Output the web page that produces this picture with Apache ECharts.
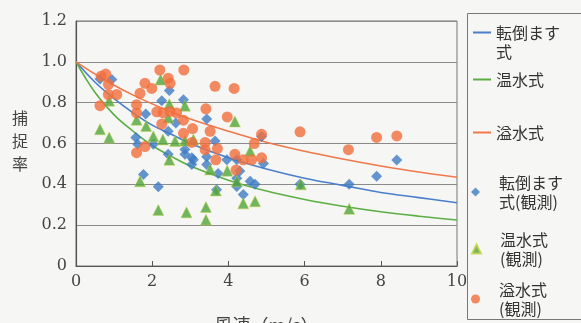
<!DOCTYPE html>
<html>
<head>
<meta charset="utf-8">
<script src="https://cdn.jsdelivr.net/npm/echarts@6/dist/echarts.min.js"></script>
<style>html,body{margin:0;padding:0;background:#f6f6f4;}#c{width:581px;height:323px;}</style>
</head>
<body>
<div id="c"></div>
<script>
// Model curves
const modelSpeed = [0, 0.5, 1, 1.5, 2, 2.5, 3, 4, 5, 6, 7, 8, 9, 10];
const modelMasu  = [1, 0.90, 0.82, 0.75, 0.69, 0.645, 0.60, 0.53, 0.475, 0.43, 0.395, 0.36, 0.335, 0.31];
const modelOnsui = [1, 0.85, 0.74, 0.66, 0.59, 0.537, 0.49, 0.42, 0.367, 0.326, 0.293, 0.266, 0.244, 0.225];
const modelIssui = [1, 0.94, 0.885, 0.837, 0.794, 0.755, 0.72, 0.66, 0.606, 0.562, 0.524, 0.49, 0.46, 0.435];

// Observations [wind speed, capture ratio]
const obsMasu = [[0.63,0.916],[0.94,0.913],[1.57,0.63],[1.62,0.596],[1.77,0.448],[1.83,0.744],[2.03,0.596],[2.16,0.388],[2.25,0.81],[2.42,0.66],[2.42,0.547],[2.45,0.86],[2.62,0.70],[2.82,0.814],[2.86,0.571],[2.86,0.547],[3.04,0.53],[3.04,0.497],[3.08,0.52],[3.43,0.72],[3.43,0.535],[3.43,0.497],[3.65,0.612],[3.69,0.374],[3.73,0.453],[3.96,0.52],[4.22,0.52],[4.22,0.43],[4.22,0.39],[4.3,0.465],[4.39,0.35],[4.57,0.415],[4.70,0.40],[4.87,0.634],[4.92,0.502],[5.88,0.40],[7.17,0.40],[7.89,0.44],[8.42,0.519]];
const obsOnsui = [[0.63,0.67],[0.87,0.81],[0.87,0.629],[1.59,0.716],[1.68,0.415],[1.84,0.686],[2.03,0.635],[2.16,0.274],[2.22,0.913],[2.28,0.62],[2.42,0.727],[2.45,0.793],[2.45,0.52],[2.6,0.612],[2.86,0.785],[2.86,0.615],[2.9,0.263],[3.08,0.62],[3.41,0.289],[3.41,0.227],[3.52,0.473],[3.67,0.37],[3.97,0.467],[4.17,0.708],[4.22,0.415],[4.39,0.307],[4.57,0.563],[4.7,0.317],[5.9,0.40],[7.17,0.28]];
const obsIssui = [[0.63,0.785],[0.66,0.93],[0.78,0.94],[0.85,0.89],[0.85,0.84],[1.07,0.84],[1.59,0.79],[1.59,0.75],[1.59,0.555],[1.68,0.846],[1.81,0.895],[1.81,0.585],[1.99,0.87],[2.12,0.755],[2.2,0.96],[2.25,0.695],[2.29,0.75],[2.42,0.92],[2.47,0.895],[2.47,0.757],[2.64,0.75],[2.82,0.714],[2.82,0.65],[2.83,0.96],[3.04,0.605],[3.06,0.673],[3.39,0.605],[3.39,0.57],[3.41,0.77],[3.52,0.66],[3.65,0.88],[3.67,0.52],[3.71,0.575],[3.97,0.73],[4.15,0.87],[4.17,0.547],[4.2,0.47],[4.39,0.52],[4.61,0.52],[4.68,0.60],[4.87,0.645],[4.87,0.53],[5.88,0.657],[7.15,0.57],[7.89,0.63],[8.42,0.637]];

const names = ['転倒ます式', '温水式', '溢水式', '転倒ます式(観測)', '温水式(観測)', '溢水式(観測)'];
const legendLabels = ['転倒ます', '温水式', '溢水式', '転倒ます\n式(観測)', '温水式\n(観測)', '溢水式\n(観測)'];
const legendWrap = '式';
const xTicks = ['0', '2', '4', '6', '8', '10'];
const yTicks = ['0', '0.2', '0.4', '0.6', '0.8', '1.0', '1.2'];

const cBlue = '#4a7fcb', cGreen = '#5caf45', cOrange = '#f0784a';
const mBlue = '#3f7cc4', mGreen = '#4fa53a', mOrange = '#f26e3c';

const pair = (xs, ys) => xs.map((x, i) => [x, ys[i]]);
const txt = {fontFamily: 'Noto Sans CJK JP', fontSize: 16, color: '#333', lineHeight: 19};

function lg(i, top, isLine) {
  const base = {
    data: [names[i]], orient: 'vertical', top: top, padding: 0,
    formatter: () => legendLabels[i], selectedMode: false
  };
  if (isLine) {
    return Object.assign(base, {left: 473, itemWidth: 18, itemHeight: 2, icon: 'rect',
      itemGap: 5, textStyle: Object.assign({}, txt)});
  }
  return Object.assign(base, {left: 471, itemWidth: 9, itemHeight: 9, itemGap: 5,
    textStyle: Object.assign({}, txt, {padding: [0, 0, 0, 14]})});
}

const chart = echarts.init(document.getElementById('c'), null, {renderer: 'canvas'});
chart.setOption({
  backgroundColor: '#f6f6f4',
  animation: false,
  grid: {left: 76, right: 124, top: 21, bottom: 57, outerBoundsMode: 'none', containLabel: false,
    show: true, borderColor: '#777', borderWidth: 1},
  xAxis: {
    type: 'value', min: 0, max: 10, interval: 2,
    name: '風速（m/s）', nameLocation: 'middle', nameGap: 50,
    nameTextStyle: {fontFamily: 'Noto Sans CJK JP', fontSize: 18, color: '#444'},
    axisLine: {lineStyle: {color: '#555', width: 1.2}},
    axisTick: {inside: true, length: 5, lineStyle: {color: '#555'}},
    axisLabel: {fontFamily: 'DejaVu Serif', fontSize: 16, color: '#444', margin: 8,
      formatter: (v) => xTicks[Math.round(v / 2)]},
    splitLine: {show: false}
  },
  yAxis: {
    type: 'value', min: 0, max: 1.2, interval: 0.2,
    axisLine: {show: true, lineStyle: {color: '#555', width: 1.2}},
    axisTick: {show: false},
    axisLabel: {fontFamily: 'DejaVu Serif', fontSize: 16, color: '#444', margin: 9,
      formatter: (v) => yTicks[Math.round(v / 0.2)]},
    splitLine: {lineStyle: {color: '#8a8a8a', width: 1}}
  },
  legend: [
    lg(0, 23, true), lg(1, 70, true), lg(2, 123, true),
    lg(3, 173, false), lg(4, 230, false), lg(5, 280, false)
  ],
  graphic: [
    {type: 'rect', shape: {x: 467.5, y: 13.5, width: 130, height: 306},
      style: {fill: 'none', stroke: '#777', lineWidth: 1}, silent: true},
    {type: 'text', left: 496, top: 42,
      style: {text: legendWrap, fontFamily: 'Noto Sans CJK JP', fontSize: 16, lineHeight: 19, fill: '#333'}},
    {type: 'text', left: 12, top: 106,
      style: {text: '捕\n捉\n率', fontFamily: 'Noto Sans CJK JP', fontSize: 16, lineHeight: 23, fill: '#444'}}
  ],
  series: [
    {name: names[0], type: 'line', data: pair(modelSpeed, modelMasu), smooth: 0.4, showSymbol: false,
      lineStyle: {color: cBlue, width: 1.6}, itemStyle: {color: cBlue}, z: 2},
    {name: names[1], type: 'line', data: pair(modelSpeed, modelOnsui), smooth: 0.4, showSymbol: false,
      lineStyle: {color: cGreen, width: 1.6}, itemStyle: {color: cGreen}, z: 2},
    {name: names[2], type: 'line', data: pair(modelSpeed, modelIssui), smooth: 0.4, showSymbol: false,
      lineStyle: {color: cOrange, width: 1.6}, itemStyle: {color: cOrange}, z: 2},
    {name: names[3], type: 'scatter', data: obsMasu, symbol: 'diamond', symbolSize: 11,
      itemStyle: {color: mBlue}, z: 3},
    {name: names[4], type: 'scatter', data: obsOnsui, symbol: 'triangle', symbolSize: 11,
      itemStyle: {color: mGreen, borderColor: '#c5d545', borderWidth: 0.6}, z: 4},
    {name: names[5], type: 'scatter', data: obsIssui, symbol: 'circle', symbolSize: 11,
      itemStyle: {color: mOrange}, z: 5}
  ]
});
</script>
</body>
</html>
